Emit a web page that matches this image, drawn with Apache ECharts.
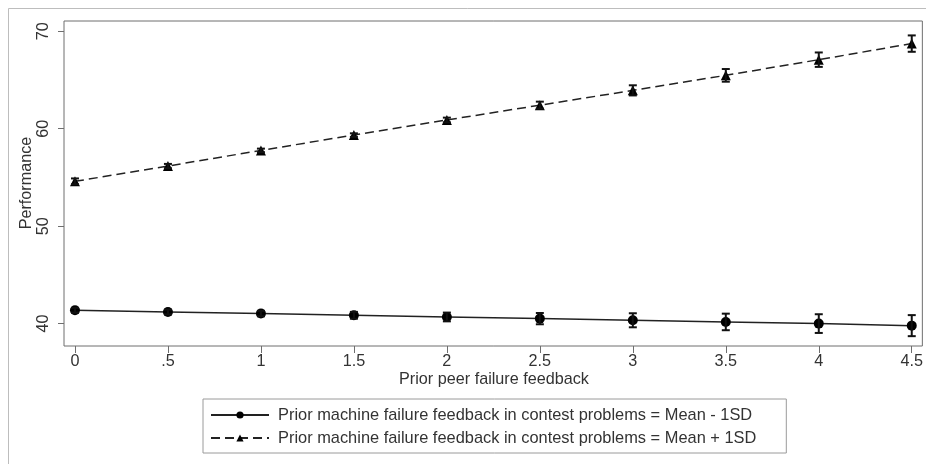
<!DOCTYPE html>
<html>
<head>
<meta charset="utf-8">
<script src="https://cdn.jsdelivr.net/npm/echarts@6/dist/echarts.min.js"></script>
<style>
  html, body { margin: 0; padding: 0; background: #fff; }
  #chart { width: 926px; height: 464px; }
</style>
</head>
<body>
<div id="chart"></div>
<script>
// Predicted performance by prior peer failure feedback, with 95% CIs
var feedback = [0, 0.5, 1, 1.5, 2, 2.5, 3, 3.5, 4, 4.5];
var xTickLabels = ['0', '.5', '1', '1.5', '2', '2.5', '3', '3.5', '4', '4.5'];
var yTicks = [40, 50, 60, 70];
var xTitle = 'Prior peer failure feedback';
var yTitle = 'Performance';

var lowName = 'Prior machine failure feedback in contest problems = Mean - 1SD';
var highName = 'Prior machine failure feedback in contest problems = Mean + 1SD';

var lowMean  = [41.37, 41.19, 41.03, 40.85, 40.68, 40.51, 40.34, 40.17, 40.00, 39.79];
var lowHalf  = [0.25, 0.25, 0.28, 0.35, 0.45, 0.58, 0.72, 0.85, 0.96, 1.08];
var highMean = [54.60, 56.17, 57.78, 59.35, 60.90, 62.42, 63.94, 65.48, 67.09, 68.74];
var highHalf = [0.30, 0.22, 0.18, 0.18, 0.24, 0.36, 0.52, 0.65, 0.74, 0.84];

function pairs(xs, ys) {
  return xs.map(function (x, i) { return [x, ys[i]]; });
}
function ciRows(xs, mean, half) {
  return xs.map(function (x, i) { return [x, mean[i] - half[i], mean[i] + half[i]]; });
}

function renderCI(params, api) {
  var x = api.value(0);
  var lo = api.coord([x, api.value(1)]);
  var hi = api.coord([x, api.value(2)]);
  var cap = 4;
  var style = { stroke: '#111', lineWidth: 2, fill: null };
  return {
    type: 'group',
    children: [
      { type: 'line', shape: { x1: lo[0], y1: lo[1], x2: hi[0], y2: hi[1] }, style: style },
      { type: 'line', shape: { x1: lo[0] - cap, y1: lo[1], x2: lo[0] + cap, y2: lo[1] }, style: style },
      { type: 'line', shape: { x1: hi[0] - cap, y1: hi[1], x2: hi[0] + cap, y2: hi[1] }, style: style }
    ]
  };
}

var font = 'Liberation Sans, Arial, sans-serif';
var textColor = '#333';
var chart = echarts.init(document.getElementById('chart'), null, { renderer: 'canvas' });

chart.setOption({
  animation: false,
  backgroundColor: '#fff',
  grid: {
    left: 64, right: 2, top: 21, bottom: 118,
    show: true, borderColor: '#6e6e6e', borderWidth: 1, backgroundColor: '#fff'
  },
  graphic: [
    {
      type: 'rect',
      z: -10,
      shape: { x: 8.5, y: 8.5, width: 940, height: 470 },
      style: { fill: null, stroke: '#bdbdbd', lineWidth: 1 }
    },
    {
      // x-axis title
      type: 'text',
      x: 494, y: 380,
      style: {
        text: xTitle, fontFamily: font, fontSize: 16.2, fill: textColor,
        align: 'center', verticalAlign: 'middle'
      }
    },
    {
      // y-axis title, reads bottom to top
      type: 'text',
      x: 27, y: 183,
      rotation: Math.PI / 2,
      style: {
        text: yTitle, fontFamily: font, fontSize: 16.2, fill: textColor,
        align: 'center', verticalAlign: 'middle'
      }
    }
  ],
  xAxis: {
    type: 'value',
    min: -0.059,
    max: 4.557,
    splitLine: { show: false },
    axisLine: { show: false, onZero: false },
    axisTick: {
      show: true, inside: false, length: 7, customValues: feedback,
      lineStyle: { color: '#6e6e6e', width: 1 }
    },
    axisLabel: {
      customValues: feedback,
      margin: 8,
      fontFamily: font, fontSize: 16.2, color: textColor,
      formatter: function (v) {
        var i = feedback.indexOf(v);
        return i >= 0 ? xTickLabels[i] : '';
      }
    }
  },
  yAxis: {
    type: 'value',
    min: 37.70,
    max: 71.06,
    splitLine: { show: false },
    axisLine: { show: false, onZero: false },
    axisTick: {
      show: true, inside: false, length: 6, customValues: yTicks,
      lineStyle: { color: '#6e6e6e', width: 1 }
    },
    axisLabel: {
      customValues: yTicks,
      rotate: 90,
      margin: 12,
      fontFamily: font, fontSize: 16.2, color: textColor
    }
  },
  legend: {
    data: [lowName, highName],
    orient: 'vertical',
    left: 203,
    top: 399,
    padding: [7, 30, 6, 7],
    itemWidth: 58,
    itemHeight: 9,
    itemGap: 5,
    borderColor: '#9a9a9a',
    borderWidth: 1,
    backgroundColor: '#fff',
    selectedMode: false,
    textStyle: { fontFamily: font, fontSize: 16.4, lineHeight: 18, color: textColor, padding: [0, 0, 0, 4] }
  },
  series: [
    {
      name: lowName,
      type: 'line',
      data: pairs(feedback, lowMean),
      symbol: 'circle',
      symbolSize: 10,
      itemStyle: { color: '#000' },
      lineStyle: { color: '#222', width: 1.5, type: 'solid' },
      z: 3
    },
    {
      name: highName,
      type: 'line',
      data: pairs(feedback, highMean),
      symbol: 'triangle',
      symbolSize: 10,
      itemStyle: { color: '#000' },
      lineStyle: { color: '#222', width: 1.5, type: [9, 5] },
      z: 3
    },
    {
      name: 'ciLow',
      type: 'custom',
      renderItem: renderCI,
      data: ciRows(feedback, lowMean, lowHalf),
      encode: { x: 0, y: [1, 2] },
      z: 4
    },
    {
      name: 'ciHigh',
      type: 'custom',
      renderItem: renderCI,
      data: ciRows(feedback, highMean, highHalf),
      encode: { x: 0, y: [1, 2] },
      z: 4
    }
  ]
});
</script>
</body>
</html>
